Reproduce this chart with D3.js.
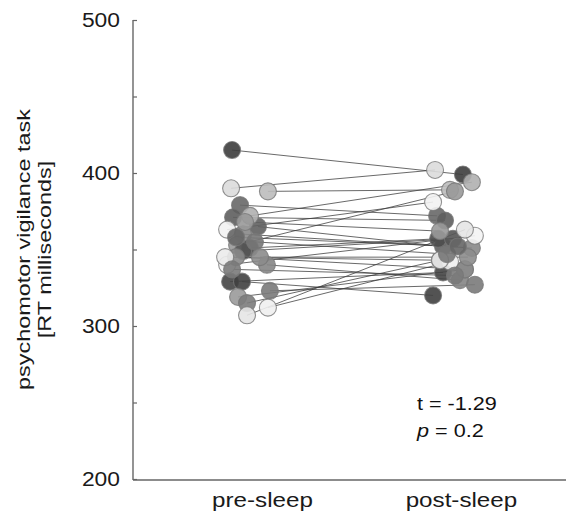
<!DOCTYPE html>
<html>
<head>
<meta charset="utf-8">
<script src="https://cdn.jsdelivr.net/npm/d3@7"></script>
<style>
  html, body { margin: 0; padding: 0; background: #fff; }
  svg { display: block; font-family: "Liberation Sans", Arial, Helvetica, sans-serif; }
</style>
</head>
<body>
<svg id="chart" width="566" height="515"></svg>
<script>
// ---- data ----
const categories = ["pre-sleep", "post-sleep"];
const yTicks = [200, 300, 400, 500];
const yMinorTicks = [200, 250, 300, 350, 400, 450, 500];
const yTitle = ["psychomotor vigilance task", "[RT milliseconds]"];

// per-subject values (RT ms)
const preValues  = [415, 390, 388, 379, 371, 363, 365, 360, 353, 351, 349, 340, 340, 329, 329, 323, 319, 315, 312, 307, 372, 345, 345, 355, 337, 345, 368, 358];
const postValues = [399, 402, 389, 372, 369, 381, 352, 351, 388, 357, 357, 359, 330, 335, 320, 327, 337, 343, 342, 363, 394, 337, 343, 347, 333, 345, 362, 352];
// horizontal jitter (in category units) used in the original plot
const preJitter  = [-0.15, -0.155, 0.03, -0.11, -0.145, -0.175, -0.02, -0.095, -0.125, -0.06, -0.095, -0.175, 0.025, -0.16, -0.10, 0.04, -0.12, -0.075, 0.03, -0.075, -0.06, -0.13, -0.185, -0.035, -0.15, -0.01, -0.085, -0.13];
const postJitter = [0.01, -0.13, -0.055, -0.12, -0.08, -0.14, -0.09, 0.055, -0.03, -0.115, -0.04, 0.07, -0.005, -0.09, -0.14, 0.07, 0.02, -0.105, -0.055, 0.02, 0.055, 0.02, -0.105, -0.07, -0.03, 0.035, -0.105, -0.015];
// grey shade of each subject's marker
const shades = ["#3d3d3d", "#dcdcdc", "#bdbdbd", "#686868", "#5e5e5e", "#f2f2f2", "#606060", "#888888", "#999999", "#4c4c4c", "#555555", "#f4f4f4", "#858585", "#454545", "#404040", "#7a7a7a", "#9a9a9a", "#7c7c7c", "#f0f0f0", "#e6e6e6", "#b0b0b0", "#888888", "#ebebeb", "#777777", "#7a7a7a", "#8c8c8c", "#999999", "#666666"];
const statLines = ["t  = -1.29", " = 0.2"];

// ---- layout ----
const svg = d3.select("#chart");
const x = d3.scaleLinear().domain([0.352, 2.528]).range([133, 566]);
const y = d3.scaleLinear().domain([200, 500]).range([479, 20]);
const FONT = "Liberation Sans, Arial, Helvetica, sans-serif";

const subjects = preValues.map((v, i) => ({
  pre: v, post: postValues[i], pj: preJitter[i], qj: postJitter[i], shade: shades[i]
}));

// y axis
const yAxis = d3.axisLeft(y).tickValues(yMinorTicks).tickSize(-4).tickPadding(0)
  .tickFormat(d => yTicks.includes(d) ? d : "");
const gy = svg.append("g").attr("transform", "translate(133,0)").call(yAxis);
gy.select(".domain").attr("stroke", "#666").attr("stroke-width", 1.4).attr("d", `M0,${y(500)}V${y(200)+1}`);
gy.selectAll(".tick line").attr("stroke", "#666").attr("stroke-width", 1.2);
gy.selectAll(".tick text")
  .attr("x", null).attr("dy", "0.35em")
  .attr("transform", "translate(-13,0) scale(1.17,1)")
  .attr("text-anchor", "end")
  .attr("font-size", 19.5).attr("fill", "#1a1a1a").attr("font-family", FONT);

// x axis
const xAxis = d3.axisBottom(x).tickValues([1, 2]).tickSize(0).tickPadding(0)
  .tickFormat((d, i) => categories[i]);
const gx = svg.append("g").attr("transform", `translate(0,${y(200)+1})`).call(xAxis);
gx.select(".domain").attr("stroke", "#666").attr("stroke-width", 1.4).attr("d", `M${133},0H566`);
gx.selectAll(".tick text")
  .attr("y", null).attr("dy", null)
  .attr("transform", "translate(0,27) scale(1.18,1)")
  .attr("font-size", 20.5).attr("fill", "#1a1a1a").attr("font-family", FONT);

// y title
const yt = svg.append("text")
  .attr("transform", `translate(30,${(y(200)+y(500))/2}) rotate(-90) scale(1.28,1)`)
  .attr("text-anchor", "middle").attr("font-size", 18.3).attr("fill", "#1a1a1a");
yt.append("tspan").attr("x", 0).attr("y", 0).text(yTitle[0]);
yt.append("tspan").attr("x", 0).attr("y", 21).text(yTitle[1]);

// connecting lines
svg.append("g").selectAll("line").data(subjects).join("line")
  .attr("x1", d => x(1 + d.pj)).attr("y1", d => y(d.pre))
  .attr("x2", d => x(2 + d.qj)).attr("y2", d => y(d.post))
  .attr("stroke", "#3a3a3a").attr("stroke-width", 0.9).attr("stroke-opacity", 0.85);

// markers
const mk = svg.append("g");
mk.selectAll("circle.pre").data(subjects).join("circle").attr("class", "pre")
  .attr("cx", d => x(1 + d.pj)).attr("cy", d => y(d.pre)).attr("r", 8.5)
  .attr("fill", d => d.shade).attr("fill-opacity", 0.9)
  .attr("stroke", "#777").attr("stroke-width", 1.1).attr("stroke-opacity", 0.8);
mk.selectAll("circle.post").data(subjects).join("circle").attr("class", "post")
  .attr("cx", d => x(2 + d.qj)).attr("cy", d => y(d.post)).attr("r", 8.5)
  .attr("fill", d => d.shade).attr("fill-opacity", 0.9)
  .attr("stroke", "#777").attr("stroke-width", 1.1).attr("stroke-opacity", 0.8);

// stats text
const st = svg.append("g").attr("font-size", 18).attr("fill", "#111").attr("font-family", FONT);
st.append("text").attr("transform", "translate(417,410) scale(1.2,1)").text(statLines[0]);
const t2 = st.append("text").attr("transform", "translate(417,437) scale(1.2,1)");
t2.append("tspan").attr("font-style", "italic").text("p");
t2.append("tspan").text(statLines[1]);
</script>
</body>
</html>
